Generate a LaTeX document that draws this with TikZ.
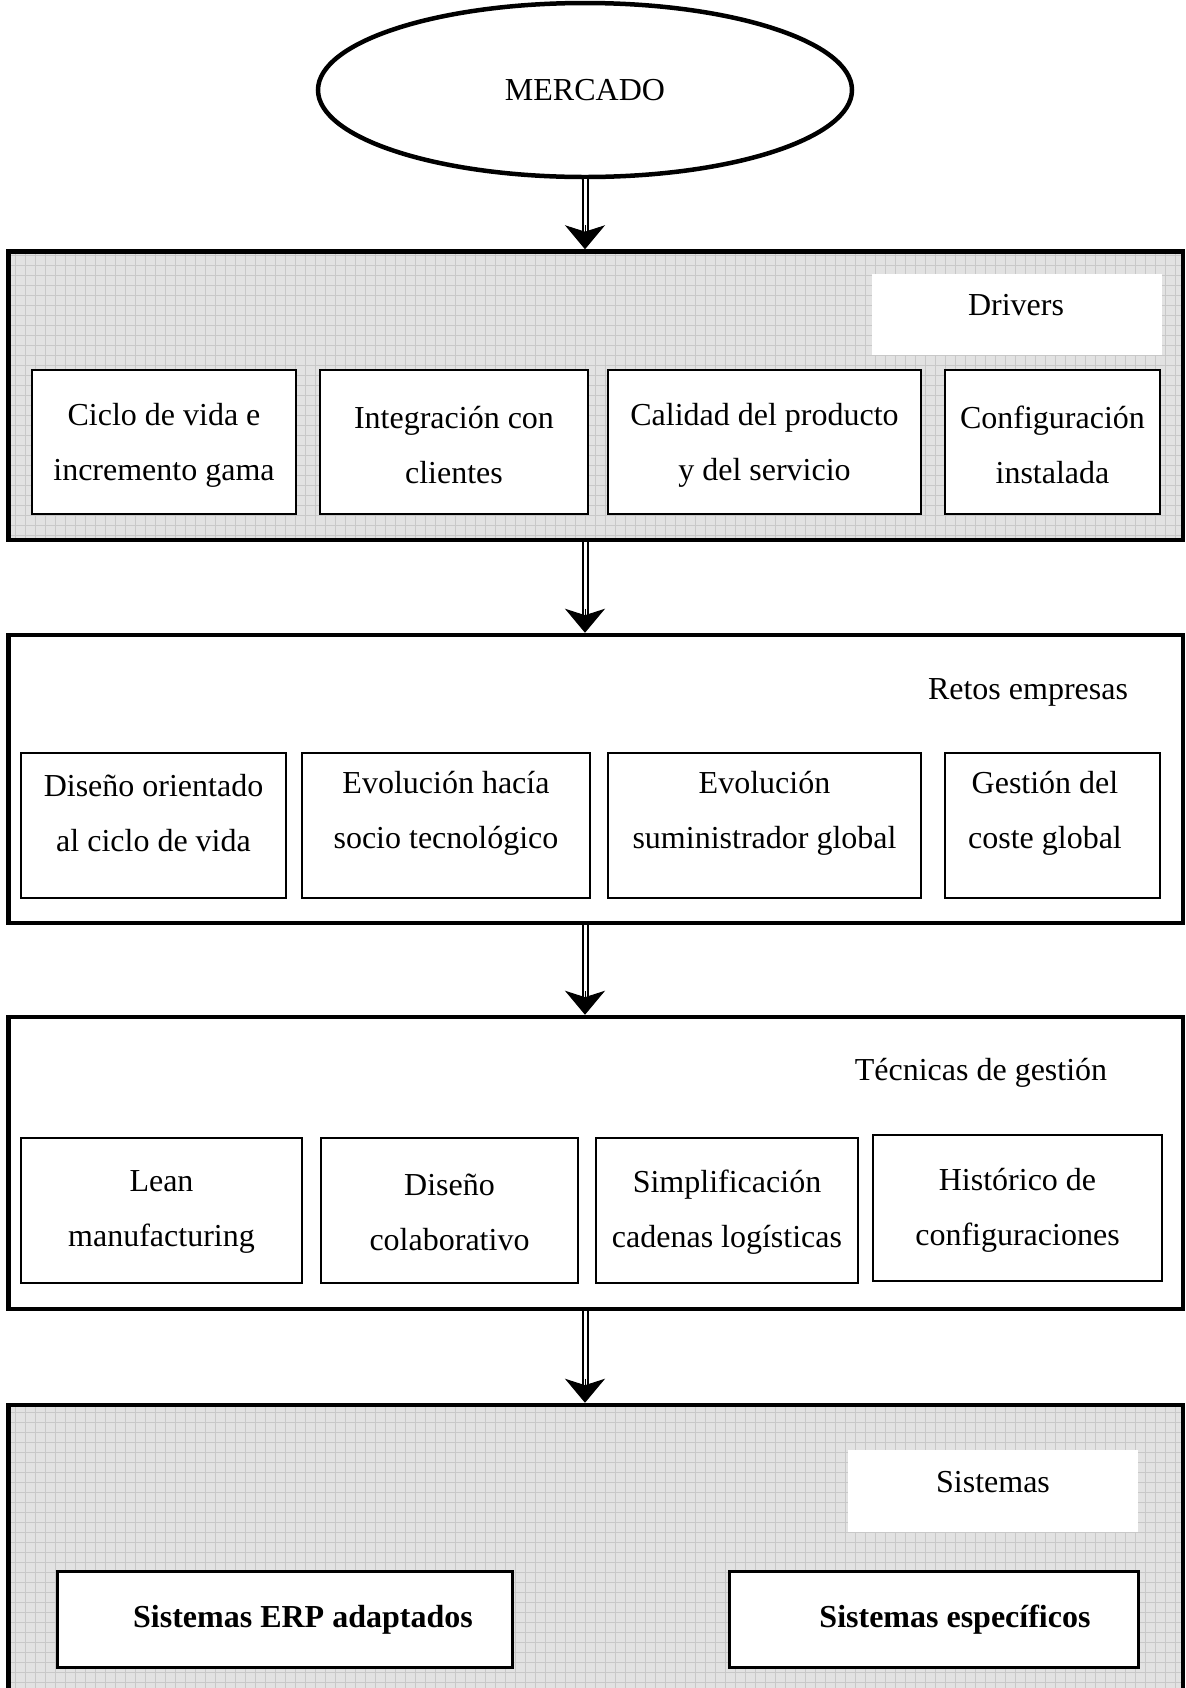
\documentclass[tikz,border=0pt]{standalone}
\usepackage{fontspec}
\setmainfont{Liberation Serif}
\usetikzlibrary{shapes.geometric,arrows.meta}

\definecolor{gridbg}{RGB}{226,226,226}
\definecolor{gridln}{RGB}{200,200,200}

\begin{document}
\begin{tikzpicture}[x=0.5pt,y=-0.5pt,
  every node/.style={font=\fontsize{16pt}{27.5pt}\selectfont},
  txt/.style={align=center, inner sep=0pt},
  outerbox/.style={draw, line width=2.25pt, minimum width=587.25pt, inner sep=0pt},
  gridfill/.style={path picture={
      \fill[gridbg] (path picture bounding box.south west) rectangle (path picture bounding box.north east);
      \draw[gridln, line width=0.5pt] (path picture bounding box.south west) grid[step=5pt] (path picture bounding box.north east);}},
  inbox/.style={draw, fill=white, line width=1.2pt, inner sep=0pt},
  sysbox/.style={draw, fill=white, line width=1.5pt, inner sep=0pt},
  panel/.style={fill=white, inner sep=0pt},
  flowstem/.style={line width=1pt, double, double distance=1.5pt, shorten >=5pt},
  flowhead/.style={line width=0.5pt, -{Stealth[length=12pt, width=20pt, inset=3.2pt]}}
]
\useasboundingbox (0,0) rectangle (1185,1688);
\clip (0,0) rectangle (1185,1688);

% market ellipse
\node[draw, ellipse, line width=2.25pt, minimum width=267pt, minimum height=87pt, inner sep=0pt] (mercado) at (585,90) {MERCADO};

% four stages
\node[outerbox, gridfill, minimum height=144.25pt] (drivers) at (595.75,395.75) {};
\node[outerbox, fill=white, minimum height=144pt] (retos) at (595.75,779) {};
\node[outerbox, fill=white, minimum height=146pt] (tecnicas) at (595.75,1163) {};
\node[outerbox, gridfill, minimum height=157.5pt] (sistemas) at (595.75,1562.5) {};

% stage titles
\node[panel, minimum width=145pt, minimum height=40.5pt] (drvpanel) at (1017,314.5) {};
\node[txt] (drvlabel) at (1016,305) {Drivers};
\node[txt] (retlabel) at (1028,692) {Retos empresas};
\node[txt] (teclabel) at (981,1073) {Técnicas de gestión};
\node[panel, minimum width=145pt, minimum height=41pt] (sispanel) at (993,1491) {};
\node[txt] (sislabel) at (993,1482) {Sistemas};

% drivers
\node[inbox, minimum width=132pt, minimum height=72pt] (d1) at (164,442) {};
\node[txt] (d1t) at (164,445) {Ciclo de vida e\\incremento gama};
\node[inbox, minimum width=134pt, minimum height=72pt] (d2) at (454,442) {};
\node[txt] (d2t) at (454,445) {Integración con\\clientes};
\node[inbox, minimum width=156.5pt, minimum height=72pt] (d3) at (764.5,442) {};
\node[txt] (d3t) at (764.5,445) {Calidad del producto\\y del servicio};
\node[inbox, minimum width=107.5pt, minimum height=72pt] (d4) at (1052.5,442) {};
\node[txt] (d4t) at (1052.5,445) {Configuración\\instalada};

% company challenges
\node[inbox, minimum width=132.5pt, minimum height=72.5pt] (r1) at (153.5,825.5) {};
\node[txt] (r1t) at (153.5,813) {Diseño orientado\\al ciclo de vida};
\node[inbox, minimum width=144pt, minimum height=72.5pt] (r2) at (446,825.5) {};
\node[txt] (r2t) at (446,813) {Evolución hacía\\socio tecnológico};
\node[inbox, minimum width=156.5pt, minimum height=72.5pt] (r3) at (764.5,825.5) {};
\node[txt] (r3t) at (764.5,813) {Evolución\\suministrador global};
\node[inbox, minimum width=107.5pt, minimum height=72.5pt] (r4) at (1052.5,825.5) {};
\node[txt] (r4t) at (1045,813) {Gestión del\\coste global};

% management techniques
\node[inbox, minimum width=140.5pt, minimum height=72.5pt] (t1) at (161.5,1210.5) {};
\node[txt] (t1t) at (161.5,1212) {Lean\\manufacturing};
\node[inbox, minimum width=128.5pt, minimum height=72.5pt] (t2) at (449.5,1210.5) {};
\node[txt] (t2t) at (449.5,1212) {Diseño\\colaborativo};
\node[inbox, minimum width=131pt, minimum height=72.5pt] (t3) at (727,1210.5) {};
\node[txt] (t3t) at (727,1212) {Simplificación\\cadenas logísticas};
\node[inbox, minimum width=144.5pt, minimum height=73pt] (t4) at (1017.5,1208) {};
\node[txt] (t4t) at (1017.5,1210) {Histórico de\\configuraciones};

% systems
\node[sysbox, minimum width=227.5pt, minimum height=48pt] (s1) at (284.5,1619) {};
\node[txt] (s1t) at (303,1620) {\textbf{Sistemas ERP adaptados}};
\node[sysbox, minimum width=204.5pt, minimum height=48pt] (s2) at (933.5,1619) {};
\node[txt] (s2t) at (955,1620) {\textbf{Sistemas específicos}};

% flow between stages: double stem, then a solid head
\draw[flowstem] (mercado.south) -- (mercado.south |- drivers.north);
\draw[flowhead] ([yshift=12pt]mercado.south |- drivers.north) -- (mercado.south |- drivers.north);
\draw[flowstem] (drivers.south -| mercado.south) -- (retos.north -| mercado.south);
\draw[flowhead] ([yshift=12pt]retos.north -| mercado.south) -- (retos.north -| mercado.south);
\draw[flowstem] (retos.south -| mercado.south) -- (tecnicas.north -| mercado.south);
\draw[flowhead] ([yshift=12pt]tecnicas.north -| mercado.south) -- (tecnicas.north -| mercado.south);
\draw[flowstem] (tecnicas.south -| mercado.south) -- (sistemas.north -| mercado.south);
\draw[flowhead] ([yshift=12pt]sistemas.north -| mercado.south) -- (sistemas.north -| mercado.south);
\end{tikzpicture}
\end{document}
